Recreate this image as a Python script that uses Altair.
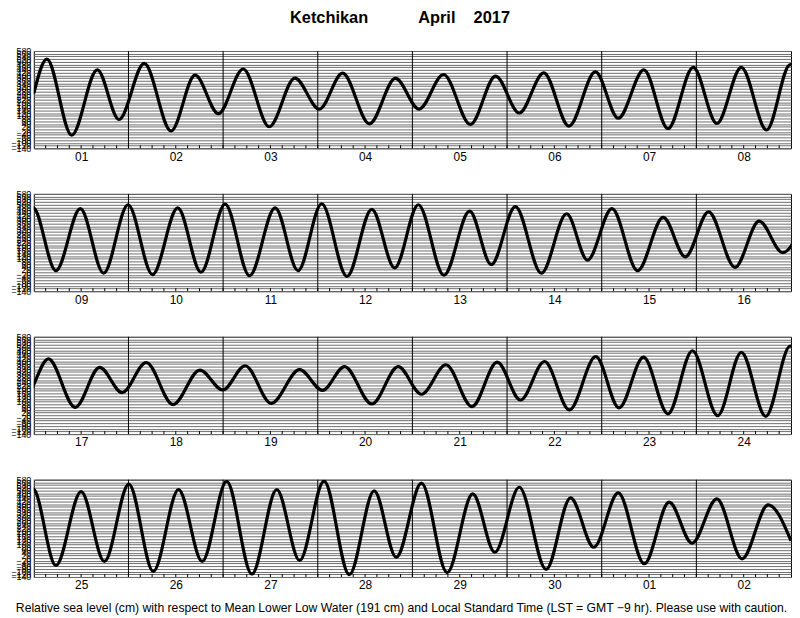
import altair as alt
import pandas as pd

# Times of high / low water (hours after 2017-04-01 00:00 LST) and heights (cm above MLLW)
hours = [
    0, 3.3, 9.6, 16.1, 21.6, 28.0, 34.8, 40.9, 46.8, 53.1, 59.7, 66.2, 72.4, 78.3, 85.1, 91.7,
    97.7, 103.9, 110.7, 117.1, 123.1, 129.3, 135.7, 142.4, 148.2, 154.7, 160.8, 167.2, 173.2,
    179.4, 185.8, 191.8,
    197.6, 203.8, 209.7, 215.9, 222.1, 228.5, 234.4, 240.5, 246.7, 253.2, 259.0, 265.0, 271.4,
    277.7, 283.5, 289.5, 296.0, 302.5, 308.0, 314.1, 320.7, 327.1, 332.4, 338.6, 345.1, 351.6,
    357.2, 363.1, 369.8, 375.9, 381.9,
    387.7, 394.5, 400.7, 406.4, 412.5, 419.3, 426.1, 431.9, 437.6, 444.2, 451.4, 457.2, 462.8,
    469.7, 476.4, 482.3, 488.5, 495.1, 501.5, 507.4, 513.5, 519.8, 526.5, 532.4, 538.6, 544.8,
    551.0, 557.4, 563.4, 569.6, 575.8,
    581.6, 588.0, 593.9, 600.1, 606.3, 612.7, 618.7, 624.9, 631.3, 637.6, 643.4, 649.6, 656.0,
    662.3, 667.9, 674.3, 680.8, 687.3, 692.9, 699.1, 705.9, 712.1, 718.0, 724.2, 730.8, 737.1,
    742.9, 749.2, 755.6, 762.2, 768.0,
]
level = [
    266, 520, -43, 440, 73, 488, -12, 401, 116, 447, 19, 379, 150, 416, 41, 377,
    150, 406, 36, 394, 121, 418, 24, 425, 82, 440, 5, 459, 44,
    459, -5, 479,
    12, 471, -7, 500, -17, 476, 0, 505, -26, 476, 12, 507, -31,
    466, 32, 500, -22, 452, 56, 486, -7, 433, 90, 471, 12, 406,
    114, 447, 36, 379, 145,
    417, 58, 354, 167, 390, 78, 334, 187, 366, 87, 337, 184, 359,
    83, 359, 155, 373, 63, 392, 112, 397, 39, 434, 54, 429, 10,
    477, -4, 465, -9, 512,
    -55, 492, -25, 548, -99, 507, -25, 568, -118, 507, -18, 570, -123,
    497, 6, 555, -108, 475, 43, 524, -84, 446, 80, 482, -42, 414,
    111, 438, -6, 394, 128,
]
day_labels = ["01", "02", "03", "04", "05", "06", "07", "08", "09", "10", "11", "12", "13",
              "14", "15", "16", "17", "18", "19", "20", "21", "22", "23", "24", "25", "26",
              "27", "28", "29", "30", "01", "02"]
panel_starts = [0, 192, 384, 576]
y_ticks = list(range(-140, 581, 20))
tick_hours = list(range(0, 769, 3))

caption = ("Relative sea level (cm) with respect to Mean Lower Low Water (191 cm) and "
           "Local Standard Time (LST = GMT \u22129 hr). Please use with caution.")

W, H = 763, 98
df = pd.DataFrame({"t": hours, "h": level})
ticks_df = pd.DataFrame({"t": tick_hours})
label_arr = "[" + ",".join('"%s"' % d for d in day_labels) + "]"


def panel(i):
    s = panel_starts[i]
    e = s + 192
    last = i == len(panel_starts) - 1
    sub = df[(df.t >= s - 10) & (df.t <= e + 10)]
    tk = ticks_df[(ticks_df.t > s) & (ticks_df.t < e)]
    days = pd.DataFrame({"t": [s + 24 * k for k in range(1, 8)]})
    xscale = alt.Scale(domain=[s, e], nice=False, zero=False)
    axis_kw = dict(
        values=[s + 12 + 24 * k for k in range(8)],
        labelExpr=label_arr + "[floor(datum.value / 24)]",
        ticks=False, grid=False, domain=False,
        labelFontSize=12, labelFont="Liberation Sans", labelColor="black",
        labelPadding=3, minExtent=20, maxExtent=20,
    )
    if last:
        axis_kw.update(title=caption, titleFontSize=12.3, titleFont="Liberation Sans",
                       titleFontWeight="normal", titleColor="black", titlePadding=5,
                       titleX=370, titleAnchor="middle")
    else:
        axis_kw.update(title=None)
    x = alt.X("t:Q", scale=xscale, axis=alt.Axis(**axis_kw))
    line = alt.Chart(sub).mark_line(
        color="black", strokeWidth=3.2, interpolate="monotone", clip=True
    ).encode(
        x=x,
        y=alt.Y("h:Q", scale=alt.Scale(domain=[-140, 580], nice=False, zero=False),
                axis=alt.Axis(values=y_ticks, grid=True, gridColor="#6e6e6e", gridWidth=1,
                              ticks=False, domain=False, labelFontSize=9,
                              labelFont="Liberation Sans", labelColor="black",
                              labelOverlap=False, labelPadding=3,
                              minExtent=25, maxExtent=25, title=None)),
    )
    hour_ticks = alt.Chart(tk).mark_rule(color="black", strokeWidth=1).encode(
        x=alt.X("t:Q", scale=xscale), y=alt.value(H - 3), y2=alt.value(H)
    )
    day_lines = alt.Chart(days).mark_rule(color="black", strokeWidth=1).encode(
        x=alt.X("t:Q", scale=xscale), y=alt.value(0), y2=alt.value(H)
    )
    return alt.layer(hour_ticks, day_lines, line).properties(width=W, height=H)


chart = alt.vconcat(*[panel(i) for i in range(4)], spacing=20).properties(
    title=alt.TitleParams(
        "Ketchikan" + "\u00a0" * 11 + "April" + "\u00a0" * 4 + "2017",
        fontSize=16.5, font="Liberation Sans", fontWeight="bold", color="black",
        anchor="middle", offset=20,
    ),
    padding={"left": 0, "top": 0, "right": 0, "bottom": 0},
).configure_view(stroke="black", strokeWidth=1)

chart.save("out.html", embed_options={"renderer": "svg", "actions": False})
